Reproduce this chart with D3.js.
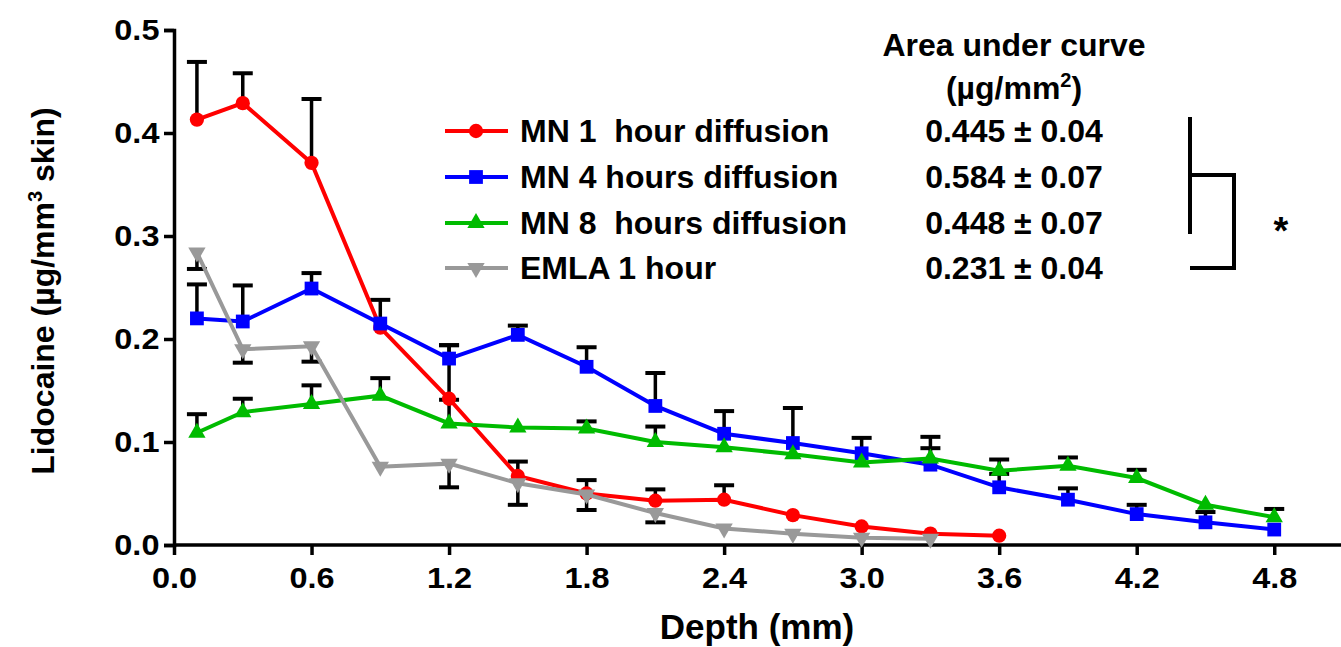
<!DOCTYPE html>
<html>
<head>
<meta charset="utf-8">
<script src="https://cdn.jsdelivr.net/npm/d3@7"></script>
<style>
  body { margin: 0; background: #fff; }
  text { font-family: "Liberation Sans", Arial, sans-serif; font-weight: bold; }
</style>
</head>
<body>
<div id="chart"></div>
<script>
// depths (mm) at which the skin was sectioned
const depths = [0.1, 0.3, 0.6, 0.9, 1.2, 1.5, 1.8, 2.1, 2.4, 2.7, 3.0, 3.3, 3.6, 3.9, 4.2, 4.5, 4.8];

// lidocaine (ug/mm3 skin), error bars as +/- magnitude
const mn1 = [0.413, 0.429, 0.371, 0.211, 0.142, 0.067, 0.050, 0.043, 0.044, 0.029, 0.018, 0.011, 0.009];
const mn1Err = [0.056, 0.029, 0.062, 0, 0.052, 0.014, 0.013, 0.011, 0.014, 0, 0, 0, 0];
const mn4 = [0.220, 0.217, 0.249, 0.215, 0.181, 0.204, 0.173, 0.135, 0.108, 0.099, 0.089, 0.078, 0.056, 0.044, 0.030, 0.022, 0.015];
const mn4Err = [0.033, 0.035, 0.015, 0.023, 0.013, 0.009, 0.019, 0.032, 0.022, 0.034, 0.015, 0.027, 0.013, 0.011, 0.009, 0.010, 0];
const mn8 = [0.109, 0.129, 0.137, 0.145, 0.118, 0.114, 0.113, 0.100, 0.095, 0.088, 0.080, 0.084, 0.072, 0.077, 0.065, 0.039, 0.027];
const mn8Err = [0.018, 0.013, 0.018, 0.017, 0.023, 0, 0.007, 0.015, 0, 0, 0, 0.010, 0.011, 0.008, 0.008, 0, 0.008];
const emla = [0.284, 0.190, 0.193, 0.076, 0.079, 0.060, 0.049, 0.031, 0.016, 0.011, 0.007, 0.006];
const emlaErr = [0.016, 0.013, 0.015, 0, 0.023, 0.021, 0.015, 0.009, 0, 0, 0, 0];

const seriesNames = ["MN 1  hour diffusion", "MN 4 hours diffusion", "MN 8  hours diffusion", "EMLA 1 hour"];
const aucValues = ["0.445 \u00b1 0.04", "0.584 \u00b1 0.07", "0.448 \u00b1 0.07", "0.231 \u00b1 0.04"];
const xTicks = [0, 0.6, 1.2, 1.8, 2.4, 3.0, 3.6, 4.2, 4.8];
const yTicks = [0, 0.1, 0.2, 0.3, 0.4, 0.5];

const width = 1341;
const height = 647;

const series = [
  { name: seriesNames[0], values: mn1, err: mn1Err, dir: 1, color: "#ff0000", symbol: d3.symbolCircle, size: 160, rotate: 0 },
  { name: seriesNames[1], values: mn4, err: mn4Err, dir: 1, color: "#0000ff", symbol: d3.symbolSquare, size: 190, rotate: 0 },
  { name: seriesNames[2], values: mn8, err: mn8Err, dir: 1, color: "#00bb00", symbol: d3.symbolTriangle, size: 130, rotate: 0 },
  { name: seriesNames[3], values: emla, err: emlaErr, dir: -1, color: "#999999", symbol: d3.symbolTriangle, size: 130, rotate: 180 }
];

const svg = d3.select("#chart")
  .append("svg")
  .attr("width", width)
  .attr("height", height);

const x = d3.scaleLinear().domain([0, 5.1]).range([174, 1343]);
const y = d3.scaleLinear().domain([0, 0.5]).range([545, 30]);

// axes
const xAxis = svg.append("g")
  .attr("transform", `translate(0, ${y(0)})`)
  .call(d3.axisBottom(x).tickValues(xTicks).tickFormat(d3.format(".1f")).tickSize(10).tickPadding(12));
const yAxis = svg.append("g")
  .attr("transform", `translate(${x(0)}, 0)`)
  .call(d3.axisLeft(y).tickValues(yTicks).tickFormat(d3.format(".1f")).tickSize(10).tickPadding(3));

[xAxis, yAxis].forEach(a => {
  a.select(".domain").attr("stroke", "#000").attr("stroke-width", 3.5);
  a.selectAll(".tick line").attr("stroke", "#000").attr("stroke-width", 3.5);
  a.selectAll(".tick text").attr("fill", "#000").style("font-size", "29px")
    .attr("transform", "scale(1.12,1)");
});
xAxis.select(".domain").attr("d", `M${x(0)},0H${width}`);

// axis titles
svg.append("text")
  .attr("x", 757).attr("y", 639)
  .attr("text-anchor", "middle")
  .style("font-size", "35px")
  .text("Depth (mm)");

svg.append("text")
  .attr("transform", "translate(54, 291) rotate(-90)")
  .attr("text-anchor", "middle")
  .style("font-size", "32px")
  .html('Lidocaine (\u00b5g/mm<tspan dy="-12" font-size="20">3</tspan><tspan dy="12"> skin)</tspan>');

const plot = svg.append("g");

// error bars (one side only)
series.forEach(s => {
  s.values.forEach((v, i) => {
    const e = s.err[i];
    if (!e) return;
    const x0 = x(depths[i]);
    const y1 = y(v + s.dir * e);
    plot.append("line")
      .attr("x1", x0).attr("x2", x0)
      .attr("y1", y(v)).attr("y2", y1)
      .attr("stroke", "#000").attr("stroke-width", 3.5);
    plot.append("line")
      .attr("x1", x0 - 10).attr("x2", x0 + 10)
      .attr("y1", y1).attr("y2", y1)
      .attr("stroke", "#000").attr("stroke-width", 4);
  });
});

const line = d3.line()
  .x((d, i) => x(depths[i]))
  .y(d => y(d));

series.forEach(s => {
  plot.append("path")
    .datum(s.values)
    .attr("d", line)
    .attr("fill", "none")
    .attr("stroke", s.color)
    .attr("stroke-width", 4);

  plot.selectAll(null)
    .data(s.values)
    .enter()
    .append("path")
    .attr("d", d3.symbol().type(s.symbol).size(s.size))
    .attr("transform", (d, i) => `translate(${x(depths[i])}, ${y(d)}) rotate(${s.rotate})`)
    .attr("fill", s.color);
});

// legend
const legendY = [131, 177, 223, 268];
const legend = svg.append("g");
series.forEach((s, i) => {
  const ly = legendY[i];
  legend.append("line")
    .attr("x1", 445).attr("x2", 508)
    .attr("y1", ly).attr("y2", ly)
    .attr("stroke", s.color).attr("stroke-width", 4);
  legend.append("path")
    .attr("d", d3.symbol().type(s.symbol).size(s.size))
    .attr("transform", `translate(476, ${ly}) rotate(${s.rotate})`)
    .attr("fill", s.color);
  legend.append("text")
    .attr("x", 520).attr("y", ly + 11)
    .attr("xml:space", "preserve")
    .style("white-space", "pre")
    .style("font-size", "32px")
    .text(s.name);
  legend.append("text")
    .attr("x", 1014).attr("y", ly + 11)
    .attr("text-anchor", "middle")
    .style("font-size", "32px")
    .text(aucValues[i]);
});

legend.append("text")
  .attr("x", 1014).attr("y", 56)
  .attr("text-anchor", "middle")
  .style("font-size", "32px")
  .text("Area under curve");
legend.append("text")
  .attr("x", 1014).attr("y", 99)
  .attr("text-anchor", "middle")
  .style("font-size", "32px")
  .html('(\u00b5g/mm<tspan dy="-12" font-size="20">2</tspan><tspan dy="12">)</tspan>');

// significance bracket
const bracket = svg.append("g")
  .attr("fill", "none")
  .attr("stroke", "#000")
  .attr("stroke-width", 4);
bracket.append("path").attr("d", "M1190,117V234");
bracket.append("path").attr("d", "M1190,175H1234V268H1190");

svg.append("text")
  .attr("x", 1281).attr("y", 244)
  .attr("text-anchor", "middle")
  .style("font-size", "38px")
  .text("*");
</script>
</body>
</html>
